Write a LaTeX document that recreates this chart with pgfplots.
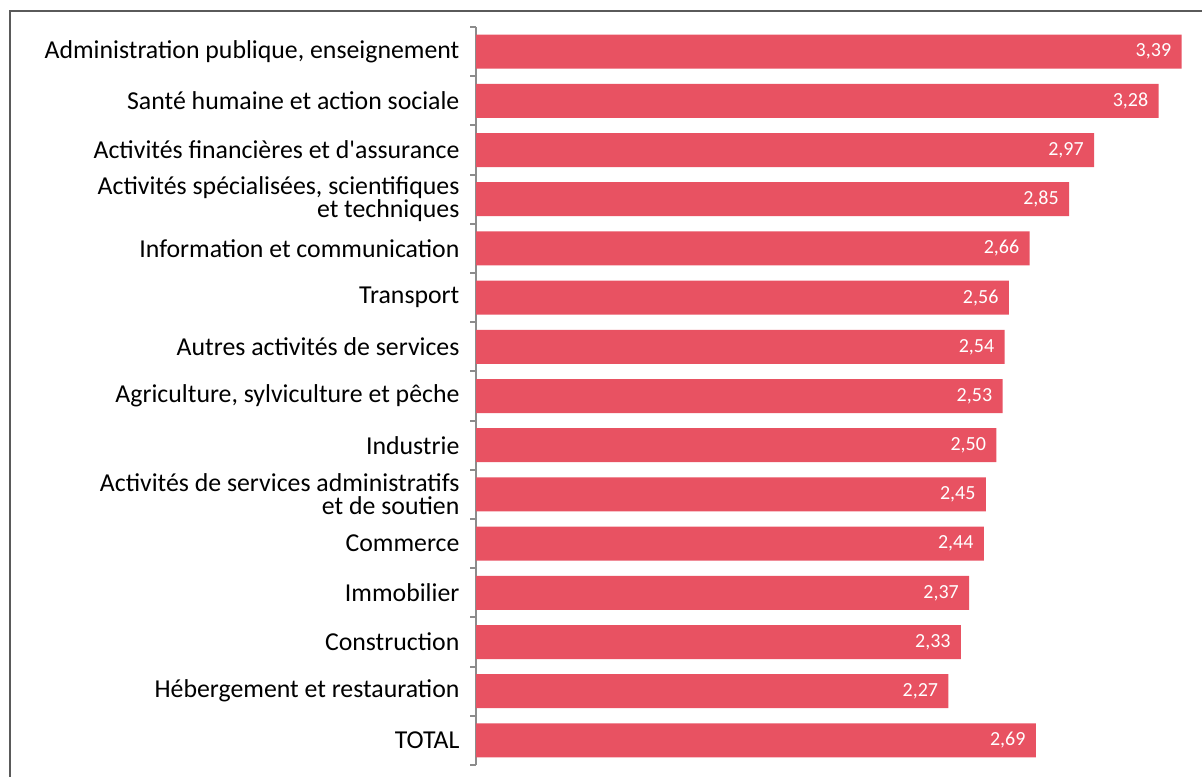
\documentclass[border=0pt]{standalone}
\usepackage{fontspec}
\setmainfont{Carlito}
\usepackage{pgfplots}
\pgfplotsset{compat=1.18}
\definecolor{barred}{RGB}{232,82,98}
\definecolor{framegray}{RGB}{90,90,90}
\definecolor{axisgray}{RGB}{140,140,140}
\begin{document}
\begin{tikzpicture}
\useasboundingbox (0pt,0pt) rectangle (601pt,388pt);
\clip (0pt,0pt) rectangle (601pt,388pt);
\draw[framegray, line width=0.8pt] (5pt,-5pt) -- (5pt,382.5pt) -- (610pt,382.5pt);
\begin{axis}[
  at={(238pt,5.5pt)}, anchor=south west,
  scale only axis, width=359pt, height=369pt,
  xbar, bar width=17pt,
  xmin=0, xmax=3.45,
  ymin=-0.5, ymax=14.5, y dir=reverse,
  axis y line*=left, axis x line=none,
  y axis line style={axisgray, line width=1pt},
  xtick=\empty,
  ytick={0,...,14},
  yticklabels={{Administration publique, enseignement},
    Santé humaine et action sociale,
    Activités financières et d\textquotesingle assurance,
    {Activités spécialisées, scientifiques\\et techniques},
    Information et communication,
    Transport,
    Autres activités de services,
    {Agriculture, sylviculture et pêche},
    Industrie,
    Activités de services administratifs\\et de soutien,
    Commerce,
    Immobilier,
    Construction,
    Hébergement et restauration,
    TOTAL},
  major y tick style={draw=none},
  yticklabel style={align=right, xshift=-0.5pt, font=\fontsize{12.9}{11.5}\selectfont, text=black},
  extra y ticks={-0.5,0.5,...,14.5},
  extra y tick labels={},
  extra y tick style={tick align=outside, major tick length=3pt,
    major y tick style={draw=axisgray, line width=1pt}},
  point meta=x,
  nodes near coords={\pgfmathprintnumber[fixed,fixed zerofill,precision=2,use comma,assume math mode=true]{\pgfplotspointmeta}},
  nodes near coords style={anchor=east, text=white, inner sep=0pt, xshift=-5pt,
    font=\fontsize{10}{11}\selectfont},
]
\addplot[fill=barred, draw=none] coordinates {
  (3.39,0) (3.28,1) (2.97,2) (2.85,3) (2.66,4) (2.56,5) (2.54,6) (2.53,7)
  (2.50,8) (2.45,9) (2.44,10) (2.37,11) (2.33,12) (2.27,13) (2.69,14)};
\end{axis}
\end{tikzpicture}
\end{document}
